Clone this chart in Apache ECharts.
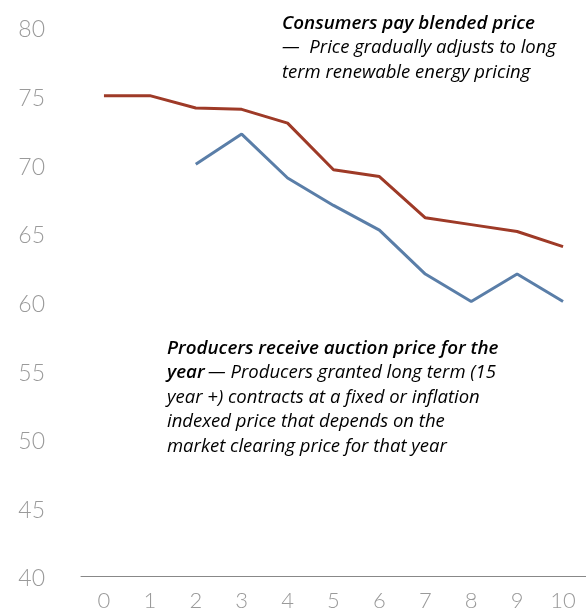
<!DOCTYPE html>
<html>
<head>
<meta charset="utf-8">
<script src="https://cdn.jsdelivr.net/npm/echarts@6/dist/echarts.min.js"></script>
<style>
  html, body { margin: 0; padding: 0; background: #fff; }
  #chart { width: 586px; height: 612px; }
</style>
</head>
<body>
<div id="chart"></div>
<script>
const years = [0, 1, 2, 3, 4, 5, 6, 7, 8, 9, 10]
const consumerPrice = [75, 75, 74.1, 74, 73, 69.6, 69.1, 66.1, 65.6, 65.1, 64]
const producerPrice = [null, null, 70, 72.2, 69, 67, 65.2, 62, 60, 62, 60]

const consumerNote = [
  '{b|Consumers pay blended price}',
  '{i|—  Price gradually adjusts to long}',
  '{i|term renewable energy pricing}'
].join('\n')
const producerNote = [
  '{b|Producers receive auction price for the}',
  '{b|year} {i|— Producers granted long term (15}',
  '{i|year +) contracts at a fixed or inflation}',
  '{i|indexed price that depends on the}',
  '{i|market clearing price for that year}'
].join('\n')

const pairs = (vals) => years.map((x, i) => [x, vals[i]])

const noteRich = {
  b: {fontFamily: 'Open Sans', fontStyle: 'italic', fontWeight: 600, fontSize: 18.8, color: '#222', lineHeight: 24.5},
  i: {fontFamily: 'Open Sans', fontStyle: 'italic', fontWeight: 'normal', fontSize: 18.5, color: '#3c3c3c', lineHeight: 24.5}
}

const chart = echarts.init(document.getElementById('chart'))
chart.setOption({
  animation: false,
  grid: {left: 81, right: 0, top: 27, bottom: 35},
  xAxis: {
    type: 'value',
    min: -0.5,
    max: 10.5,
    interval: 0.5,
    splitLine: {show: false},
    axisTick: {show: false},
    axisLine: {lineStyle: {color: '#888', width: 1}},
    axisLabel: {
      color: '#9a9a9a',
      fontFamily: 'Lato',
      fontWeight: 300,
      fontSize: 22,
      margin: 14,
      showMinLabel: false,
      showMaxLabel: false,
      formatter: (v) => Number.isInteger(v) ? String(v) : ''
    }
  },
  yAxis: {
    type: 'value',
    min: 40,
    max: 80,
    interval: 5,
    splitLine: {show: false},
    axisTick: {show: false},
    axisLine: {show: false},
    axisLabel: {
      color: '#9a9a9a',
      fontFamily: 'Lato',
      fontWeight: 300,
      fontSize: 23,
      margin: 36,
      verticalAlign: 'top',
      lineHeight: 6
    }
  },
  series: [
    {
      name: 'Consumers',
      type: 'line',
      data: pairs(consumerPrice),
      symbol: 'none',
      lineStyle: {color: '#9e3a27', width: 3}
    },
    {
      name: 'Producers',
      type: 'line',
      data: pairs(producerPrice),
      symbol: 'none',
      lineStyle: {color: '#5a7ea8', width: 3}
    }
  ],
  graphic: [
    {
      type: 'text',
      left: 282,
      top: 14,
      style: {text: consumerNote, rich: noteRich}
    },
    {
      type: 'text',
      left: 167,
      top: 339,
      style: {text: producerNote, rich: noteRich}
    }
  ]
})
</script>
</body>
</html>
